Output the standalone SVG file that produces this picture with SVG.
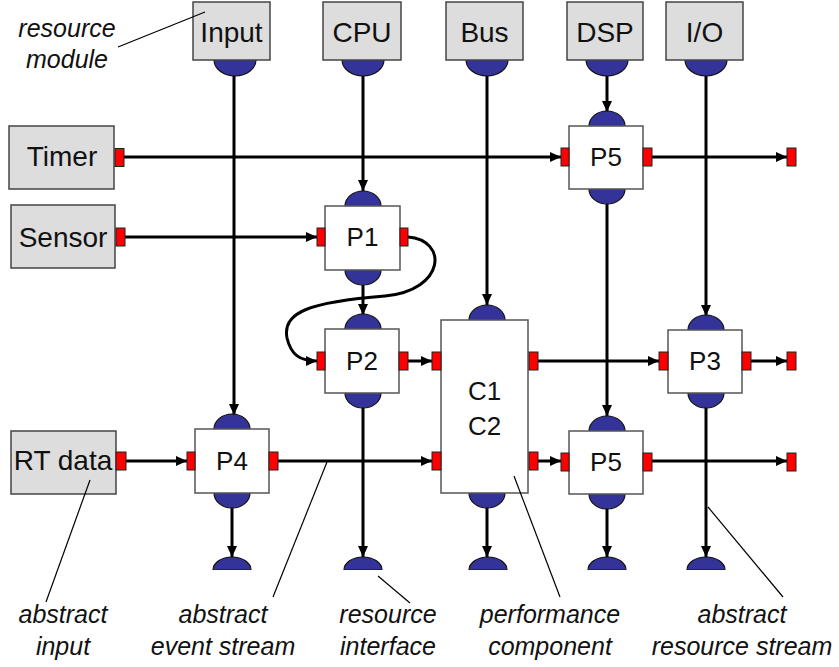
<svg xmlns="http://www.w3.org/2000/svg" width="839" height="667" viewBox="0 0 839 667">
  <defs>
    <marker id="arrow" markerUnits="userSpaceOnUse" markerWidth="12" markerHeight="12" viewBox="0 0 12 12" refX="11" refY="6" orient="auto">
      <path d="M0,1 L11,6 L0,11 Z" fill="#000"/>
    </marker>
    <style>
      .module { fill: #dddddd; stroke: #444; stroke-width: 1.5; }
      .proc { fill: #ffffff; stroke: #555; stroke-width: 1.5; }
      .blob { fill: #333399; stroke: #111; stroke-width: 1.2; }
      .port { fill: #ff0000; stroke: #222; stroke-width: 1; }
      .lbl { font-family: "Liberation Sans", Arial, sans-serif; font-size: 28px; text-anchor: middle; fill: #111; }
      .plbl { font-family: "Liberation Sans", Arial, sans-serif; font-size: 26px; text-anchor: middle; fill: #111; }
      .note { font-family: "Liberation Sans", Arial, sans-serif; font-size: 25px; font-style: italic; text-anchor: middle; fill: #111; }
      .wire { fill: none; stroke: #000; stroke-width: 3; }
      .arr { marker-end: url(#arrow); }
      .lead { fill: none; stroke: #000; stroke-width: 1.2; }
    </style>
  </defs>

  <rect width="839" height="667" fill="#ffffff"/>

  <!-- connectors -->
  <g id="connectors">
    <!-- resource streams (vertical) -->
    <line class="wire arr" x1="234" y1="76" x2="234" y2="415"/>
    <line class="wire arr" x1="363" y1="76" x2="363" y2="191"/>
    <line class="wire arr" x1="363" y1="285" x2="363" y2="315"/>
    <line class="wire arr" x1="363" y1="407" x2="363" y2="557"/>
    <line class="wire arr" x1="487" y1="76" x2="487" y2="305"/>
    <line class="wire arr" x1="487" y1="507" x2="487" y2="557"/>
    <line class="wire arr" x1="607" y1="76" x2="607" y2="112"/>
    <line class="wire arr" x1="607" y1="204" x2="607" y2="416"/>
    <line class="wire arr" x1="607" y1="508" x2="607" y2="557"/>
    <line class="wire arr" x1="706" y1="76" x2="706" y2="316"/>
    <line class="wire arr" x1="706" y1="407" x2="706" y2="557"/>
    <line class="wire arr" x1="232" y1="507" x2="232" y2="557"/>

    <!-- event streams (horizontal) -->
    <line class="wire arr" x1="124" y1="157" x2="561" y2="157"/>
    <line class="wire arr" x1="652" y1="157" x2="787" y2="157"/>
    <line class="wire arr" x1="125" y1="237" x2="317" y2="237"/>
    <line class="wire arr" x1="408" y1="361" x2="432" y2="361"/>
    <line class="wire arr" x1="538" y1="361" x2="659" y2="361"/>
    <line class="wire arr" x1="751" y1="361" x2="787" y2="361"/>
    <line class="wire arr" x1="126" y1="461" x2="187" y2="461"/>
    <line class="wire arr" x1="278" y1="461" x2="432" y2="461"/>
    <line class="wire arr" x1="538" y1="461" x2="561" y2="461"/>
    <line class="wire arr" x1="652" y1="461" x2="787" y2="461"/>

    <!-- P1 output looping back into P2 -->
    <path class="wire arr" d="M408,237 C448,240 446,290 385,296 C310,302 282,312 287,338 C291,355 300,361 317,361"/>
  </g>

  <!-- resource modules -->
  <g id="input">
    <ellipse class="blob" cx="235" cy="60" rx="21" ry="16"/>
    <rect class="module" x="193" y="2" width="77" height="58"/>
    <text class="lbl" x="231.5" y="42">Input</text>
  </g>
  <g id="cpu">
    <ellipse class="blob" cx="363" cy="60" rx="21" ry="16"/>
    <rect class="module" x="323" y="2" width="78" height="58"/>
    <text class="lbl" x="362" y="42">CPU</text>
  </g>
  <g id="bus">
    <ellipse class="blob" cx="487" cy="60" rx="21" ry="16"/>
    <rect class="module" x="446" y="2" width="77" height="58"/>
    <text class="lbl" x="484.5" y="42">Bus</text>
  </g>
  <g id="dsp">
    <ellipse class="blob" cx="607" cy="60" rx="21" ry="16"/>
    <rect class="module" x="567" y="2" width="76" height="58"/>
    <text class="lbl" x="605" y="42">DSP</text>
  </g>
  <g id="io">
    <ellipse class="blob" cx="706" cy="60" rx="21" ry="16"/>
    <rect class="module" x="666" y="2" width="77" height="58"/>
    <text class="lbl" x="704.5" y="42">I/O</text>
  </g>

  <!-- abstract inputs -->
  <g id="timer">
    <rect class="module" x="9" y="126" width="105" height="63"/>
    <rect class="port" x="115" y="148.5" width="9" height="18"/>
    <text class="lbl" x="62" y="166">Timer</text>
  </g>
  <g id="sensor">
    <rect class="module" x="11" y="205" width="104" height="63"/>
    <rect class="port" x="116" y="228" width="9" height="18"/>
    <text class="lbl" x="63" y="247">Sensor</text>
  </g>
  <g id="rtdata">
    <rect class="module" x="11" y="431" width="105" height="63"/>
    <rect class="port" x="116" y="452" width="10" height="18"/>
    <text class="lbl" x="63" y="470">RT data</text>
  </g>

  <!-- performance components -->
  <g id="p1">
    <ellipse class="blob" cx="363" cy="206" rx="18" ry="15"/>
    <ellipse class="blob" cx="363" cy="270" rx="18" ry="15"/>
    <rect class="proc" x="325" y="206" width="75" height="64"/>
    <rect class="port" x="317" y="228" width="8" height="18"/>
    <rect class="port" x="400" y="228" width="8" height="18"/>
    <text class="plbl" x="362.5" y="246">P1</text>
  </g>
  <g id="p2">
    <ellipse class="blob" cx="363" cy="329" rx="18" ry="15"/>
    <ellipse class="blob" cx="363" cy="393" rx="18" ry="15"/>
    <rect class="proc" x="325" y="329" width="74" height="64"/>
    <rect class="port" x="317" y="352" width="8" height="18"/>
    <rect class="port" x="399" y="352" width="9" height="18"/>
    <text class="plbl" x="362" y="370">P2</text>
  </g>
  <g id="c12">
    <ellipse class="blob" cx="487" cy="320" rx="18" ry="15"/>
    <ellipse class="blob" cx="487" cy="493" rx="18" ry="15"/>
    <rect class="proc" x="441" y="320" width="87" height="173"/>
    <rect class="port" x="432" y="352" width="9" height="18"/>
    <rect class="port" x="529" y="352" width="9" height="18"/>
    <rect class="port" x="432" y="452" width="9" height="18"/>
    <rect class="port" x="529" y="452" width="9" height="18"/>
    <text class="plbl" x="484.5" y="400">C1</text>
    <text class="plbl" x="484.5" y="435">C2</text>
  </g>
  <g id="p3">
    <ellipse class="blob" cx="706" cy="330" rx="18" ry="15"/>
    <ellipse class="blob" cx="706" cy="393" rx="18" ry="15"/>
    <rect class="proc" x="668" y="330" width="74" height="63"/>
    <rect class="port" x="659" y="352" width="9" height="18"/>
    <rect class="port" x="742" y="352" width="9" height="18"/>
    <rect class="port" x="787" y="352" width="9" height="18"/>
    <text class="plbl" x="705" y="370">P3</text>
  </g>
  <g id="p4">
    <ellipse class="blob" cx="232" cy="429" rx="18" ry="15"/>
    <ellipse class="blob" cx="232" cy="493" rx="18" ry="15"/>
    <rect class="proc" x="195" y="429" width="74" height="64"/>
    <rect class="port" x="187" y="452" width="8" height="18"/>
    <rect class="port" x="269" y="452" width="9" height="18"/>
    <text class="plbl" x="232" y="470">P4</text>
  </g>
  <g id="p5a">
    <ellipse class="blob" cx="607" cy="126" rx="18" ry="15"/>
    <ellipse class="blob" cx="607" cy="189" rx="18" ry="15"/>
    <rect class="proc" x="569" y="126" width="74" height="63"/>
    <rect class="port" x="561" y="148" width="8" height="18"/>
    <rect class="port" x="643" y="148" width="9" height="18"/>
    <rect class="port" x="787" y="148" width="9" height="18"/>
    <text class="plbl" x="606" y="166">P5</text>
  </g>
  <g id="p5b">
    <ellipse class="blob" cx="607" cy="431" rx="18" ry="15"/>
    <ellipse class="blob" cx="607" cy="494" rx="18" ry="15"/>
    <rect class="proc" x="569" y="431" width="74" height="63"/>
    <rect class="port" x="561" y="453" width="8" height="18"/>
    <rect class="port" x="643" y="453" width="9" height="18"/>
    <rect class="port" x="787" y="453" width="9" height="18"/>
    <text class="plbl" x="606" y="471">P5</text>
  </g>

  <!-- resource interfaces at the bottom edge -->
  <g id="sinks">
    <path class="blob" d="M213,570 A19,13 0 0 1 251,570 Z"/>
    <path class="blob" d="M344,570 A19,13 0 0 1 382,570 Z"/>
    <path class="blob" d="M469,570 A19,13 0 0 1 507,570 Z"/>
    <path class="blob" d="M588,570 A19,13 0 0 1 626,570 Z"/>
    <path class="blob" d="M687,570 A19,13 0 0 1 725,570 Z"/>
    <rect x="200" y="570" width="540" height="4" fill="#ffffff"/>
  </g>

  <!-- annotations -->
  <g id="annotations">
    <line class="lead" x1="118" y1="47" x2="205" y2="12"/>
    <text class="note" x="67" y="37">resource</text>
    <text class="note" x="67" y="68">module</text>

    <line class="lead" x1="90" y1="480" x2="46" y2="602"/>
    <text class="note" x="63" y="623">abstract</text>
    <text class="note" x="63" y="655">input</text>

    <line class="lead" x1="327" y1="462" x2="273" y2="597"/>
    <text class="note" x="223" y="623">abstract</text>
    <text class="note" x="223" y="655">event stream</text>

    <line class="lead" x1="378" y1="576" x2="410" y2="603"/>
    <text class="note" x="388" y="623">resource</text>
    <text class="note" x="388" y="655">interface</text>

    <line class="lead" x1="514" y1="476" x2="560" y2="597"/>
    <text class="note" x="550" y="623">performance</text>
    <text class="note" x="550" y="655">component</text>

    <line class="lead" x1="708" y1="507" x2="783" y2="597"/>
    <text class="note" x="742" y="623">abstract</text>
    <text class="note" x="742" y="655">resource stream</text>
  </g>
</svg>
